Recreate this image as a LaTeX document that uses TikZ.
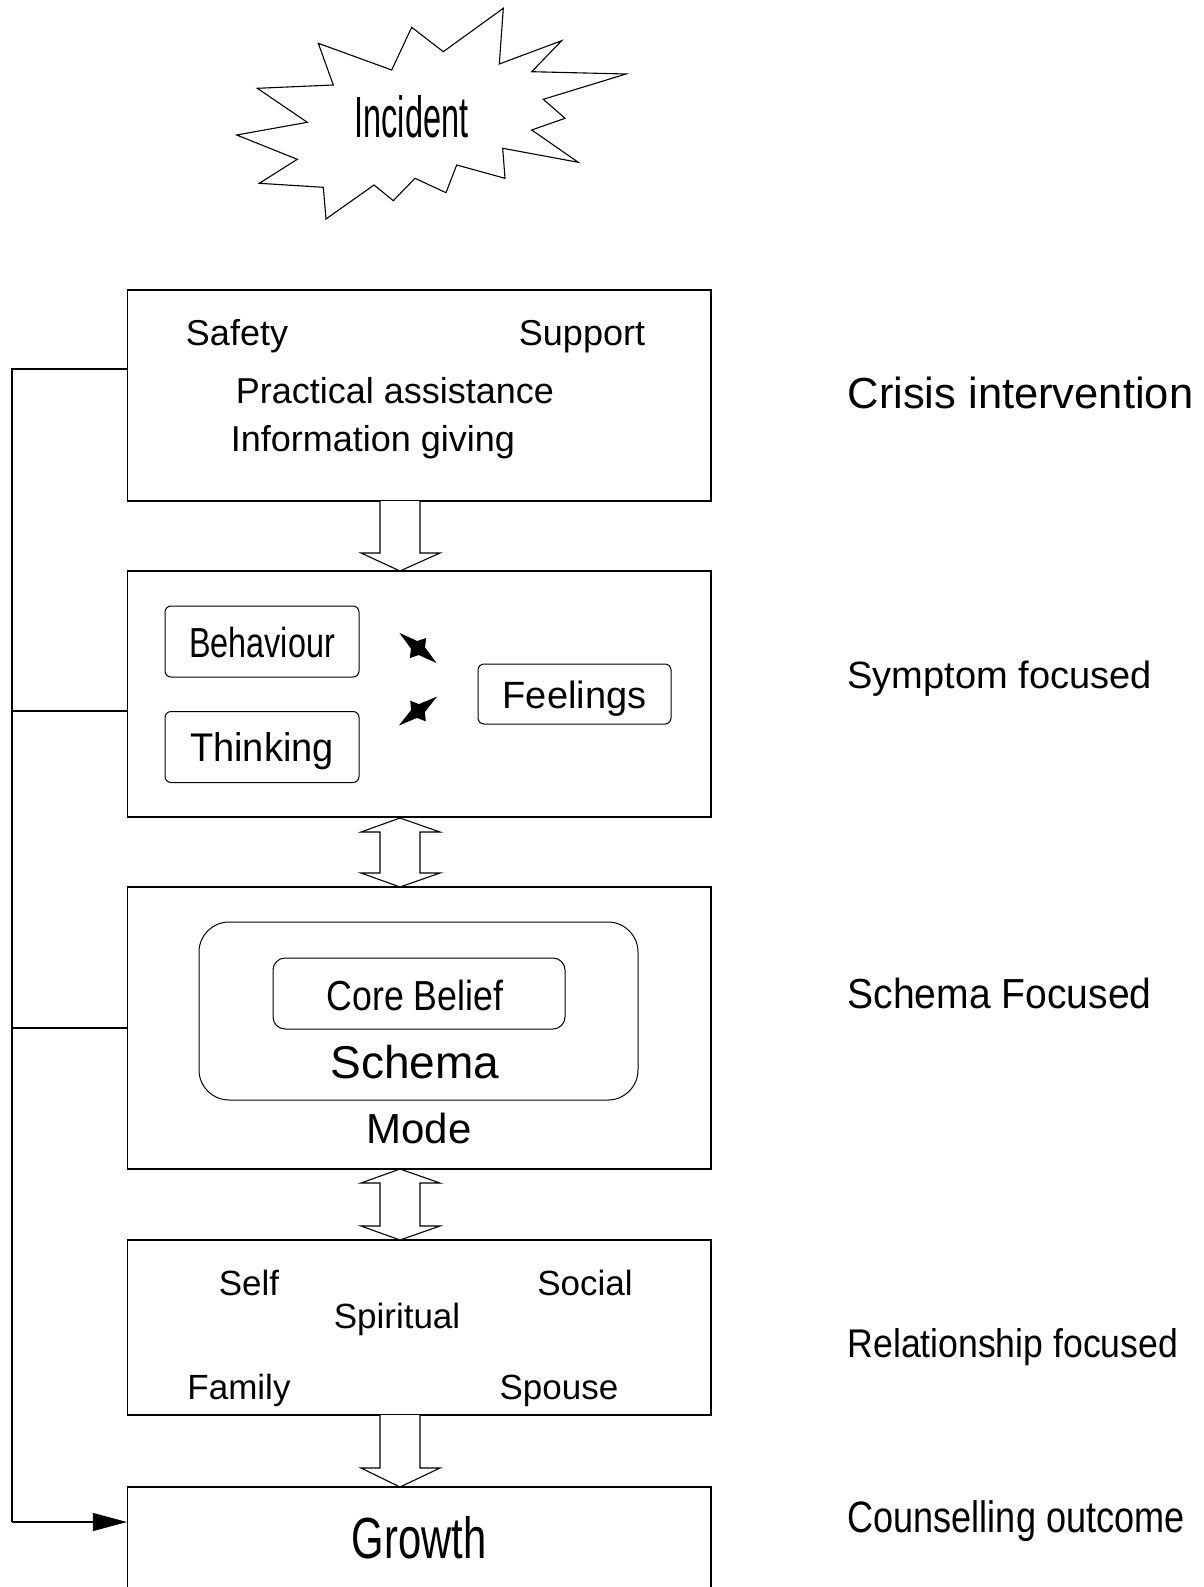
\documentclass[tikz,border=0pt]{standalone}
\usepackage{fontspec}
\setmainfont{Liberation Sans}
\usetikzlibrary{arrows.meta}
\newcommand\fsz[1]{\fontsize{#1}{#1}\selectfont}
\newcommand\nar[2]{{\addfontfeature{FakeStretch=#1}#2}}
\tikzset{
  mbox/.style={draw, line width=1.2pt, minimum width=583.5pt, inner sep=0pt},
  rbox/.style={draw, line width=1pt, inner sep=0pt},
  lbl/.style={inner sep=0pt, anchor=base},
  rlbl/.style={inner sep=0pt, anchor=base west},
  blk/.style={draw, line width=1.1pt, fill=white, line join=miter},
}
\begin{document}
\begin{tikzpicture}[x=1pt,y=-1pt, line width=1.2pt]
\useasboundingbox (0,0) rectangle (1204,1587);

% starburst
\draw[line width=1.1pt, fill=white] (318.3,43.3) -- (391.7,70) -- (411.7,27.3) -- (443.3,51.7) -- (503.3,8.3) -- (499.3,64) -- (561.7,40.7) -- (531.7,71.7) -- (626,74) -- (543.3,99.3) -- (565,118.3) -- (531.7,130) -- (578.3,162.3) -- (502.7,148.3) -- (505,178.3) -- (456.7,165) -- (446,192.7) -- (415,178.3) -- (393.3,200.7) -- (374,185) -- (326,219) -- (323.3,187.3) -- (259.3,183.3) -- (297.3,159.3) -- (236.7,135) -- (307.3,122.3) -- (257.3,88.3) -- (333.3,85) -- cycle;
\node[lbl] (inc) at (411.5,137) {\fsz{58}\nar{0.56}{Incident}};

% main boxes
\node[mbox, minimum height=211pt] (b1) at (419.25,395.5) {};
\node[mbox, minimum height=246pt] (b2) at (419.25,694) {};
\node[mbox, minimum height=282pt] (b3) at (419.25,1028) {};
\node[mbox, minimum height=175pt] (b4) at (419.25,1327.5) {};
\node[mbox, minimum height=200pt] (b5) at (419.25,1587) {};

% box 1 text
\node[lbl] (safety) at (237,345) {\fsz{36}Safety};
\node[lbl] (support) at (582,345) {\fsz{36}Support};
\node[lbl] (pract) at (395,403) {\fsz{36}Practical assistance};
\node[lbl] (info) at (373,451) {\fsz{36}Information giving};

% box 2
\node[rbox, rounded corners=6pt, minimum width=194pt, minimum height=71pt] (behbox) at (262,641.5) {};
\node[rbox, rounded corners=6pt, minimum width=194pt, minimum height=71pt] (thinkbox) at (262,747) {};
\node[rbox, rounded corners=6pt, minimum width=193pt, minimum height=60pt] (feelbox) at (574.5,694) {};
\node[lbl] (beh) at (262,657) {\fsz{42}\nar{0.77}{Behaviour}};
\node[lbl] (think) at (262,761) {\fsz{40}\nar{0.95}{Thinking}};
\node[lbl] (feel) at (574.5,708) {\fsz{38}Feelings};
\fill (436.6,663.1) -- (418.7,655) -- (409.8,658.1) -- (411,648.7) -- (399.4,632.9) -- (417.3,641) -- (426.2,637.9) -- (425,647.3) -- cycle;
\fill (437.1,696.5) -- (424.9,712) -- (425.8,721.4) -- (417,717.9) -- (398.9,725.5) -- (411.1,710) -- (410.2,700.6) -- (419,704.1) -- cycle;

% box 3
\node[rbox, rounded corners=30pt, minimum width=439pt, minimum height=178pt] (schbox) at (418.5,1011) {};
\node[rbox, rounded corners=12pt, minimum width=292pt, minimum height=71pt] (corebox) at (419,993.5) {};
\node[lbl] (core) at (415,1010) {\fsz{42}\nar{0.85}{Core Belief}};
\node[lbl] (schema) at (415,1078) {\fsz{46}Schema};
\node[lbl] (mode) at (419,1143) {\fsz{42}Mode};

% box 4
\node[lbl] (self) at (249,1295) {\fsz{35}Self};
\node[lbl] (social) at (585,1295) {\fsz{35}Social};
\node[lbl] (spirit) at (397,1328) {\fsz{35}Spiritual};
\node[lbl] (family) at (239,1399) {\fsz{35}Family};
\node[lbl] (spouse) at (559,1399) {\fsz{35}Spouse};

% box 5
\node[lbl] (growth) at (419,1558) {\fsz{58}\nar{0.72}{Growth}};

% block arrows
\draw[blk] (380,501) -- (380,553) -- (361,553) -- (400,571) -- (440,553) -- (420,553) -- (420,501);
\draw[blk] (400,818) -- (440,832) -- (420,832) -- (420,873) -- (440,873) -- (400,887) -- (361,873) -- (380,873) -- (380,832) -- (361,832) -- cycle;
\draw[blk] (400,1169) -- (440,1183) -- (420,1183) -- (420,1226) -- (440,1226) -- (400,1240) -- (361,1226) -- (380,1226) -- (380,1183) -- (361,1183) -- cycle;
\draw[blk] (380,1415) -- (380,1468) -- (361,1468) -- (400,1487) -- (440,1468) -- (420,1468) -- (420,1415);

% feedback line
\coordinate (f1) at (12,369);
\coordinate (f2) at (12,711);
\coordinate (f3) at (12,1028);
\coordinate (f5) at (12,1522);
\draw[line width=1.1pt] (b1.west |- f1) -- (f1) -- (f5);
\draw[line width=1.1pt] (b2.west |- f2) -- (f2);
\draw[line width=1.1pt] (b3.west |- f3) -- (f3);
\draw[line width=1.1pt, -{Triangle[length=34pt,width=18pt]}] (f5) -- (b5.west |- f5);

% right labels
\node[rlbl] (l1) at (847,408) {\fsz{43.5}Crisis intervention};
\node[rlbl] (l2) at (847,688) {\fsz{38}Symptom focused};
\node[rlbl] (l3) at (847,1008) {\fsz{42}\nar{0.93}{Schema Focused}};
\node[rlbl] (l4) at (847,1357) {\fsz{40}\nar{0.89}{Relationship focused}};
\node[rlbl] (l5) at (847,1532) {\fsz{44}\nar{0.82}{Counselling outcome}};
\end{tikzpicture}
\end{document}
